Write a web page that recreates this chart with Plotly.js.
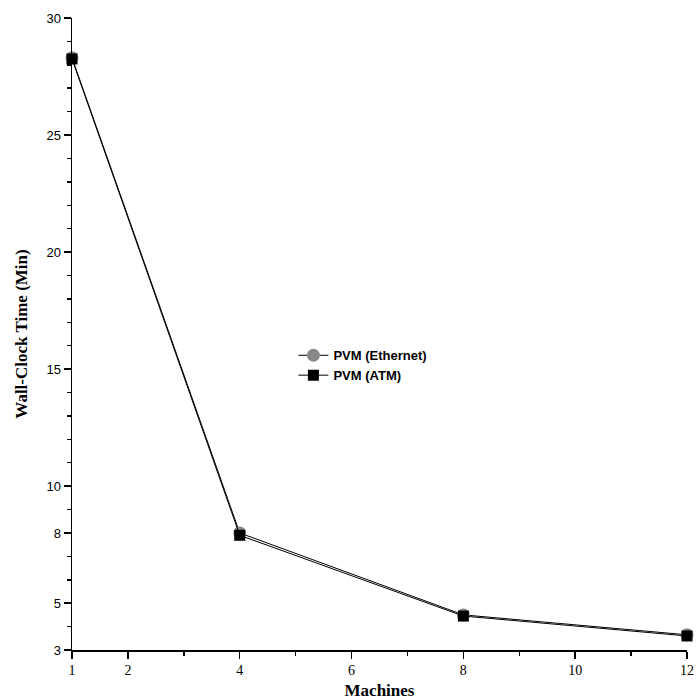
<!DOCTYPE html>
<html><head><meta charset="utf-8">
<script src="https://cdn.plot.ly/plotly-3.0.1.min.js"></script>
<style>body{margin:0;background:#fff}#chart{width:697px;height:700px}</style>
</head><body><div id="chart"></div>
<script>
const machines = [1, 4, 8, 12];
const ethernet = [28.3, 8.0, 4.5, 3.65];
const atm = [28.25, 7.9, 4.45, 3.6];
const xTicks = [1, 2, 4, 6, 8, 10, 12];
const yTicks = [3, 5, 8, 10, 15, 20, 25, 30];

const traces = [
  {x: machines, y: ethernet, name: 'PVM (Ethernet)', mode: 'lines+markers', cliponaxis: false,
   line: {color: '#000', width: 1}, marker: {symbol: 'circle', size: 13, color: '#888'}},
  {x: machines, y: atm, name: 'PVM (ATM)', mode: 'lines+markers', cliponaxis: false,
   line: {color: '#000', width: 1}, marker: {symbol: 'square', size: 11, color: '#000'}}
];
const layout = {
  width: 697, height: 700,
  margin: {l: 72, r: 10, t: 18, b: 50},
  paper_bgcolor: '#fff', plot_bgcolor: '#fff',
  showlegend: true,
  legend: {x: 0.36, y: 0.49, xanchor: 'left', yanchor: 'top', bgcolor: 'rgba(0,0,0,0)',
    font: {family: 'Liberation Sans, Arial', size: 13, color: '#000', weight: 'bold'}, tracegroupgap: 0},
  xaxis: {range: [1, 12], tickmode: 'array', tickvals: xTicks, ticktext: xTicks.map(String),
    ticklabeloverflow: 'allow',
    showgrid: false, zeroline: false, showline: true, linecolor: '#000', linewidth: 1.5,
    ticks: 'outside', ticklen: 7, tickcolor: '#000', tickwidth: 1.5,
    minor: {tickmode: 'linear', tick0: 1, dtick: 1, ticks: 'outside', ticklen: 4, tickcolor: '#000', showgrid: false},
    tickfont: {family: 'Liberation Serif, Times New Roman', size: 14, color: '#000'},
    title: {text: 'Machines', font: {family: 'Liberation Serif, Times New Roman', size: 17, color: '#000', weight: 'bold'}, standoff: 8}},
  yaxis: {range: [3, 30], tickmode: 'array', tickvals: yTicks, ticktext: yTicks.map(String),
    showgrid: false, zeroline: false, showline: true, linecolor: '#000', linewidth: 1.5,
    ticks: 'outside', ticklen: 7, tickcolor: '#000', tickwidth: 1.5,
    minor: {tickmode: 'linear', tick0: 0, dtick: 1, ticks: 'outside', ticklen: 4, tickcolor: '#000', showgrid: false},
    tickfont: {family: 'Liberation Sans, Arial', size: 13, color: '#000'},
    title: {text: 'Wall-Clock Time (Min)', font: {family: 'Liberation Serif, Times New Roman', size: 17, color: '#000', weight: 'bold'}, standoff: 14}}
};
Plotly.newPlot('chart', traces, layout, {displayModeBar: false, staticPlot: true});
</script></body></html>
